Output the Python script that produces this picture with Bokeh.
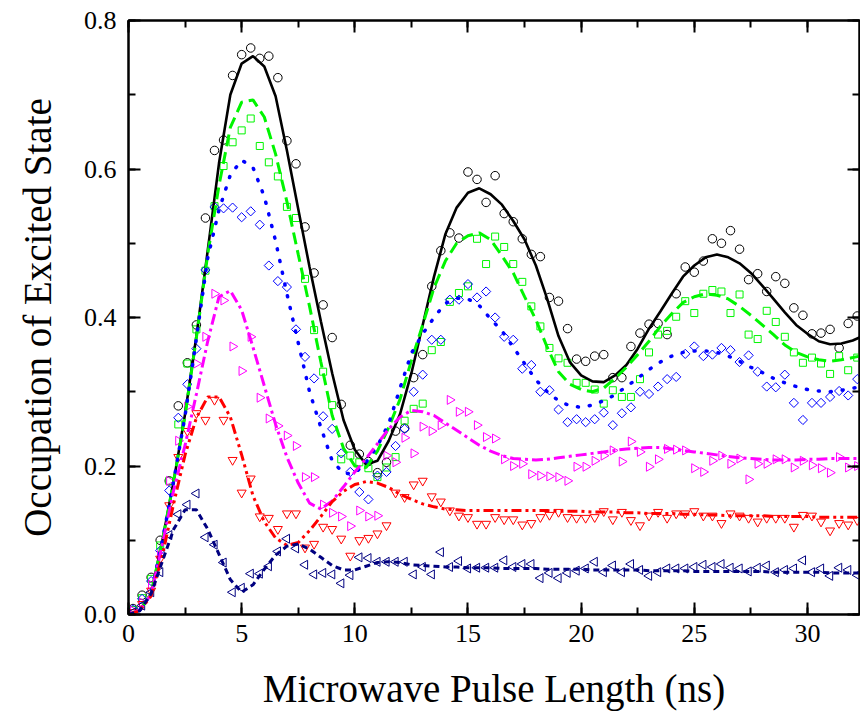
import math
from bokeh.plotting import figure
from bokeh.models import (Range1d, LinearAxis, SingleIntervalTicker, PrintfTickFormatter,
                          CustomJSTickFormatter)
from bokeh.embed import file_html
from bokeh.resources import INLINE

# ---- measured data (pulse length in ns) ----
pulse_ns = [0.2, 0.6, 1.0, 1.4, 1.8, 2.2, 2.6, 3.0, 3.4, 3.8, 4.2, 4.6, 5.0, 5.4, 5.8, 6.2,
            6.6, 7.0, 7.4, 7.8, 8.2, 8.6, 9.0, 9.4, 9.8, 10.2, 10.6, 11.0, 11.4, 11.8, 12.2,
            12.6, 13.0, 13.4, 13.8, 14.2, 14.6, 15.0, 15.4, 15.8, 16.2, 16.6, 17.0, 17.4,
            17.8, 18.2, 18.6, 19.0, 19.4, 19.8, 20.2, 20.6, 21.0, 21.4, 21.8, 22.2, 22.6,
            23.0, 23.4, 23.8, 24.2, 24.6, 25.0, 25.4, 25.8, 26.2, 26.6, 27.0, 27.4, 27.8,
            28.2, 28.6, 29.0, 29.4, 29.8, 30.2, 30.6, 31.0, 31.4, 31.8, 32.2]

black_pts = [0.008, 0.026, 0.05, 0.1, 0.18, 0.281, 0.339, 0.39, 0.534, 0.625, 0.639, 0.726,
             0.754, 0.763, 0.749, 0.752, 0.723, 0.638, 0.607, 0.522, 0.46, 0.417, 0.373,
             0.283, 0.228, 0.216, 0.206, 0.191, 0.205, 0.247, 0.251, 0.319, 0.35, 0.442,
             0.49, 0.514, 0.507, 0.596, 0.586, 0.555, 0.591, 0.54, 0.529, 0.506, 0.485,
             0.482, 0.427, 0.422, 0.385, 0.344, 0.341, 0.348, 0.35, 0.319, 0.319, 0.361,
             0.379, 0.391, 0.392, 0.377, 0.432, 0.468, 0.461, 0.476, 0.506, 0.5, 0.517,
             0.492, 0.451, 0.459, 0.435, 0.455, 0.446, 0.413, 0.403, 0.378, 0.379, 0.384,
             0.359, 0.392, 0.402]

green_pts = [0.006, 0.022, 0.048, 0.093, 0.18, 0.256, 0.338, 0.384, 0.463, 0.55, 0.604,
             0.636, 0.652, 0.668, 0.631, 0.609, 0.59, 0.549, 0.534, 0.452, 0.383, 0.327,
             0.282, 0.209, 0.214, 0.205, 0.197, 0.185, 0.198, 0.212, 0.261, 0.277, 0.284,
             0.356, 0.367, 0.421, 0.433, 0.442, 0.506, 0.472, 0.509, 0.495, 0.472, 0.448,
             0.415, 0.388, 0.359, 0.345, 0.339, 0.312, 0.312, 0.303, 0.284, 0.302, 0.293,
             0.293, 0.317, 0.353, 0.377, 0.382, 0.401, 0.422, 0.406, 0.432, 0.437, 0.435,
             0.406, 0.431, 0.377, 0.371, 0.409, 0.394, 0.374, 0.353, 0.339, 0.346, 0.338,
             0.324, 0.348, 0.329, 0.346]

blue_pts = [0.007, 0.021, 0.045, 0.086, 0.167, 0.265, 0.31, 0.358, 0.464, 0.549, 0.547,
            0.548, 0.535, 0.543, 0.525, 0.47, 0.449, 0.441, 0.384, 0.347, 0.318, 0.267,
            0.25, 0.217, 0.192, 0.165, 0.155, 0.187, 0.192, 0.227, 0.25, 0.3, 0.323, 0.37,
            0.37, 0.424, 0.424, 0.445, 0.427, 0.435, 0.4, 0.374, 0.37, 0.331, 0.336, 0.3,
            0.302, 0.276, 0.259, 0.263, 0.259, 0.263, 0.272, 0.255, 0.271, 0.279, 0.3,
            0.297, 0.307, 0.317, 0.32, 0.351, 0.361, 0.348, 0.35, 0.359, 0.356, 0.34,
            0.349, 0.327, 0.307, 0.306, 0.323, 0.285, 0.262, 0.285, 0.285, 0.293, 0.301,
            0.295, 0.317]

magenta_pts = [0.005, 0.016, 0.04, 0.08, 0.18, 0.234, 0.28, 0.338, 0.374, 0.432, 0.423,
               0.361, 0.328, 0.374, 0.292, 0.264, 0.254, 0.241, 0.227, 0.185, 0.185, 0.148,
               0.137, 0.132, 0.119, 0.14, 0.132, 0.133, 0.214, 0.205, 0.238, 0.217, 0.253,
               0.247, 0.255, 0.289, 0.273, 0.273, 0.255, 0.239, 0.237, 0.209, 0.2, 0.203,
               0.189, 0.187, 0.186, 0.185, 0.18, 0.199, 0.199, 0.207, 0.214, 0.221, 0.206,
               0.233, 0.219, 0.199, 0.209, 0.223, 0.222, 0.221, 0.197, 0.192, 0.207, 0.214,
               0.203, 0.21, 0.182, 0.203, 0.203, 0.209, 0.209, 0.198, 0.207, 0.201, 0.197,
               0.191, 0.212, 0.198, 0.2]

red_pts = [0.003, 0.014, 0.032, 0.075, 0.147, 0.212, 0.247, 0.271, 0.262, 0.289, 0.262,
           0.208, 0.164, 0.183, 0.132, 0.13, 0.115, 0.136, 0.136, 0.09, 0.095, 0.118, 0.115,
           0.102, 0.079, 0.1, 0.103, 0.109, 0.12, 0.164, 0.158, 0.175, 0.18, 0.159, 0.152,
           0.14, 0.133, 0.131, 0.122, 0.122, 0.131, 0.128, 0.128, 0.121, 0.123, 0.131,
           0.134, 0.138, 0.131, 0.13, 0.13, 0.131, 0.139, 0.128, 0.138, 0.127, 0.12, 0.133,
           0.138, 0.13, 0.136, 0.136, 0.139, 0.133, 0.133, 0.123, 0.136, 0.133, 0.13,
           0.125, 0.13, 0.13, 0.13, 0.118, 0.134, 0.133, 0.125, 0.113, 0.123, 0.121, 0.127]

navy_pts = [0.003, 0.012, 0.03, 0.057, 0.107, 0.135, 0.148, 0.163, 0.104, 0.094, 0.07,
            0.03, 0.036, 0.055, 0.055, 0.065, 0.085, 0.102, 0.089, 0.067, 0.054, 0.056,
            0.054, 0.042, 0.053, 0.077, 0.076, 0.071, 0.071, 0.071, 0.071, 0.054, 0.064,
            0.054, 0.084, 0.064, 0.072, 0.062, 0.063, 0.063, 0.063, 0.073, 0.064, 0.068,
            0.068, 0.049, 0.056, 0.049, 0.056, 0.059, 0.062, 0.071, 0.057, 0.066, 0.057,
            0.068, 0.06, 0.052, 0.057, 0.062, 0.062, 0.062, 0.064, 0.067, 0.064, 0.068,
            0.063, 0.062, 0.058, 0.063, 0.066, 0.057, 0.06, 0.062, 0.073, 0.057, 0.062,
            0.052, 0.063, 0.06, 0.053]

# ---- fitted curves ----
fit_ns = [0, 0.5, 1, 1.5, 2, 2.5, 3, 3.5, 4, 4.5, 5, 5.5, 6, 6.5, 7, 7.5, 8, 8.5, 9, 9.5,
          10, 10.5, 11, 11.5, 12, 12.5, 13, 13.5, 14, 14.5, 15, 15.5, 16, 16.5, 17, 17.5,
          18, 18.5, 19, 19.5, 20, 20.5, 21, 21.5, 22, 22.5, 23, 23.5, 24, 24.5, 25, 25.5,
          26, 26.5, 27, 27.5, 28, 28.5, 29, 29.5, 30, 30.5, 31, 31.5, 32, 32.3]

black_fit = [0, 0.006, 0.028, 0.1, 0.18, 0.27, 0.375, 0.49, 0.608, 0.7, 0.742, 0.752, 0.738,
             0.698, 0.625, 0.546, 0.468, 0.395, 0.325, 0.262, 0.222, 0.202, 0.207, 0.234,
             0.27, 0.325, 0.39, 0.455, 0.512, 0.548, 0.568, 0.574, 0.566, 0.552, 0.53, 0.505,
             0.47, 0.425, 0.375, 0.34, 0.322, 0.314, 0.313, 0.322, 0.336, 0.358, 0.385,
             0.408, 0.432, 0.455, 0.47, 0.481, 0.485, 0.481, 0.473, 0.46, 0.443, 0.425,
             0.407, 0.39, 0.378, 0.368, 0.364, 0.365, 0.369, 0.373]

green_fit = [0, 0.006, 0.028, 0.1, 0.18, 0.268, 0.373, 0.485, 0.578, 0.656, 0.69, 0.693,
             0.67, 0.62, 0.556, 0.485, 0.415, 0.34, 0.268, 0.224, 0.2, 0.198, 0.22, 0.252,
             0.29, 0.342, 0.39, 0.44, 0.476, 0.5, 0.51, 0.514, 0.505, 0.483, 0.46, 0.428,
             0.397, 0.36, 0.327, 0.31, 0.303, 0.3, 0.305, 0.318, 0.333, 0.35, 0.368, 0.388,
             0.405, 0.42, 0.428, 0.432, 0.43, 0.425, 0.415, 0.403, 0.39, 0.377, 0.363, 0.353,
             0.347, 0.343, 0.341, 0.343, 0.346, 0.348]

blue_fit = [0, 0.006, 0.028, 0.1, 0.18, 0.268, 0.372, 0.48, 0.545, 0.592, 0.612, 0.602,
            0.563, 0.503, 0.432, 0.366, 0.3, 0.252, 0.207, 0.19, 0.19, 0.205, 0.227, 0.257,
            0.305, 0.352, 0.378, 0.4, 0.419, 0.426, 0.425, 0.416, 0.398, 0.382, 0.36, 0.338,
            0.316, 0.3, 0.288, 0.281, 0.279, 0.282, 0.288, 0.296, 0.307, 0.318, 0.33, 0.34,
            0.348, 0.353, 0.355, 0.355, 0.353, 0.348, 0.341, 0.333, 0.326, 0.318, 0.312,
            0.307, 0.303, 0.301, 0.3, 0.302, 0.305, 0.306]

magenta_fit = [0, 0.006, 0.027, 0.095, 0.168, 0.228, 0.297, 0.368, 0.428, 0.436, 0.41, 0.36,
               0.308, 0.256, 0.212, 0.177, 0.15, 0.142, 0.153, 0.172, 0.192, 0.21, 0.23, 0.25,
               0.266, 0.275, 0.273, 0.268, 0.258, 0.248, 0.238, 0.228, 0.22, 0.214, 0.21,
               0.209, 0.208, 0.209, 0.211, 0.213, 0.215, 0.217, 0.219, 0.221, 0.223, 0.224,
               0.225, 0.225, 0.223, 0.221, 0.219, 0.217, 0.215, 0.213, 0.211, 0.21, 0.209,
               0.208, 0.208, 0.208, 0.209, 0.209, 0.21, 0.21, 0.21, 0.21]

red_fit = [0, 0.005, 0.025, 0.08, 0.15, 0.215, 0.265, 0.293, 0.293, 0.266, 0.215, 0.16, 0.125,
           0.103, 0.093, 0.097, 0.113, 0.132, 0.152, 0.166, 0.175, 0.179, 0.177, 0.171, 0.162,
           0.155, 0.149, 0.145, 0.142, 0.141, 0.14, 0.14, 0.14, 0.14, 0.14, 0.14, 0.14, 0.14,
           0.139, 0.139, 0.139, 0.138, 0.138, 0.138, 0.137, 0.137, 0.136, 0.136, 0.136,
           0.135, 0.135, 0.134, 0.134, 0.133, 0.133, 0.133, 0.133, 0.132, 0.132, 0.132,
           0.132, 0.131, 0.131, 0.131, 0.131, 0.131]

navy_fit = [0, 0.005, 0.028, 0.072, 0.115, 0.141, 0.141, 0.115, 0.081, 0.047, 0.03, 0.04,
            0.061, 0.08, 0.092, 0.095, 0.088, 0.077, 0.066, 0.06, 0.06, 0.065, 0.07, 0.071,
            0.07, 0.067, 0.066, 0.065, 0.064, 0.064, 0.063, 0.063, 0.063, 0.062, 0.062,
            0.062, 0.062, 0.061, 0.061, 0.061, 0.061, 0.06, 0.06, 0.06, 0.06, 0.06, 0.059,
            0.059, 0.059, 0.059, 0.058, 0.058, 0.058, 0.058, 0.058, 0.058, 0.058, 0.057,
            0.057, 0.057, 0.057, 0.057, 0.056, 0.056, 0.056, 0.056]

x_ticks = [0, 5, 10, 15, 20, 25, 30]
y_ticks = [0.0, 0.2, 0.4, 0.6, 0.8]

SERIF = "'Liberation Serif', 'DejaVu Serif', serif"
GREEN = "#00f500"

p = figure(width=860, height=712, x_range=Range1d(0, 32.3), y_range=Range1d(0, 0.8),
           output_backend="svg", toolbar_location=None,
           min_border_left=128, min_border_right=1, min_border_top=20, min_border_bottom=96)
p.background_fill_color = "white"
p.border_fill_color = "white"
p.grid.visible = False
p.outline_line_color = "black"
p.outline_line_width = 2


def style_axis(ax, interval, show_labels):
    ax.ticker = SingleIntervalTicker(interval=interval, num_minor_ticks=2)
    ax.axis_line_width = 2
    ax.axis_line_color = "black"
    ax.major_tick_line_width = 2
    ax.minor_tick_line_width = 2
    ax.major_tick_in = 12
    ax.major_tick_out = 0
    ax.minor_tick_in = 7
    ax.minor_tick_out = 0
    if show_labels:
        ax.major_label_text_font = SERIF
        ax.major_label_text_font_size = "26px"
        ax.major_label_text_color = "black"
        ax.axis_label_text_font = SERIF
        ax.axis_label_text_font_size = "39px"
        ax.axis_label_text_font_style = "normal"
        ax.axis_label_text_color = "black"
    else:
        ax.formatter = CustomJSTickFormatter(code="return '';")
        ax.major_label_standoff = 0


xa = p.xaxis[0]
ya = p.yaxis[0]
style_axis(xa, 5, True)
style_axis(ya, 0.2, True)
xa.axis_label = "Microwave Pulse Length (ns)"
ya.axis_label = "Occupation of Excited State"
xa.major_label_standoff = 10
xa.axis_label_standoff = 22
ya.major_label_standoff = 12
ya.axis_label_standoff = 22
ya.formatter = PrintfTickFormatter(format="%.1f")

top = LinearAxis()
right = LinearAxis()
style_axis(top, 5, False)
style_axis(right, 0.2, False)
p.add_layout(top, "above")
p.add_layout(right, "right")

# markers
p.scatter(pulse_ns, black_pts, marker="circle", size=8.5, fill_color=None,
          line_color="black", line_width=1)
p.scatter(pulse_ns, green_pts, marker="square", size=7, fill_color=None,
          line_color=GREEN, line_width=1)
p.scatter(pulse_ns, blue_pts, marker="square", angle=math.pi / 4, size=6.5, fill_color=None,
          line_color="#0000ff", line_width=1)
p.scatter(pulse_ns, magenta_pts, marker="triangle", angle=-math.pi / 2, size=9, fill_color=None,
          line_color="#ff00ff", line_width=1)
p.scatter(pulse_ns, red_pts, marker="inverted_triangle", size=9, fill_color=None,
          line_color="#ff0000", line_width=1)
p.scatter(pulse_ns, navy_pts, marker="triangle", angle=math.pi / 2, size=9, fill_color=None,
          line_color="#000080", line_width=1)

# fitted curves
p.line(fit_ns, black_fit, line_color="black", line_width=2.6)
p.line(fit_ns, green_fit, line_color=GREEN, line_width=3, line_dash="12 6")
p.line(fit_ns, blue_fit, line_color="#0000ff", line_width=3.5, line_dash="1 11",
       line_cap="round")
p.line(fit_ns, magenta_fit, line_color="#ff00ff", line_width=3, line_dash="11 4 3 4")
p.line(fit_ns, red_fit, line_color="#ff0000", line_width=3, line_dash="10 4 3 4 3 4")
p.line(fit_ns, navy_fit, line_color="#000080", line_width=3, line_dash="6 4")

open("out.html", "w").write(file_html(p, INLINE))
